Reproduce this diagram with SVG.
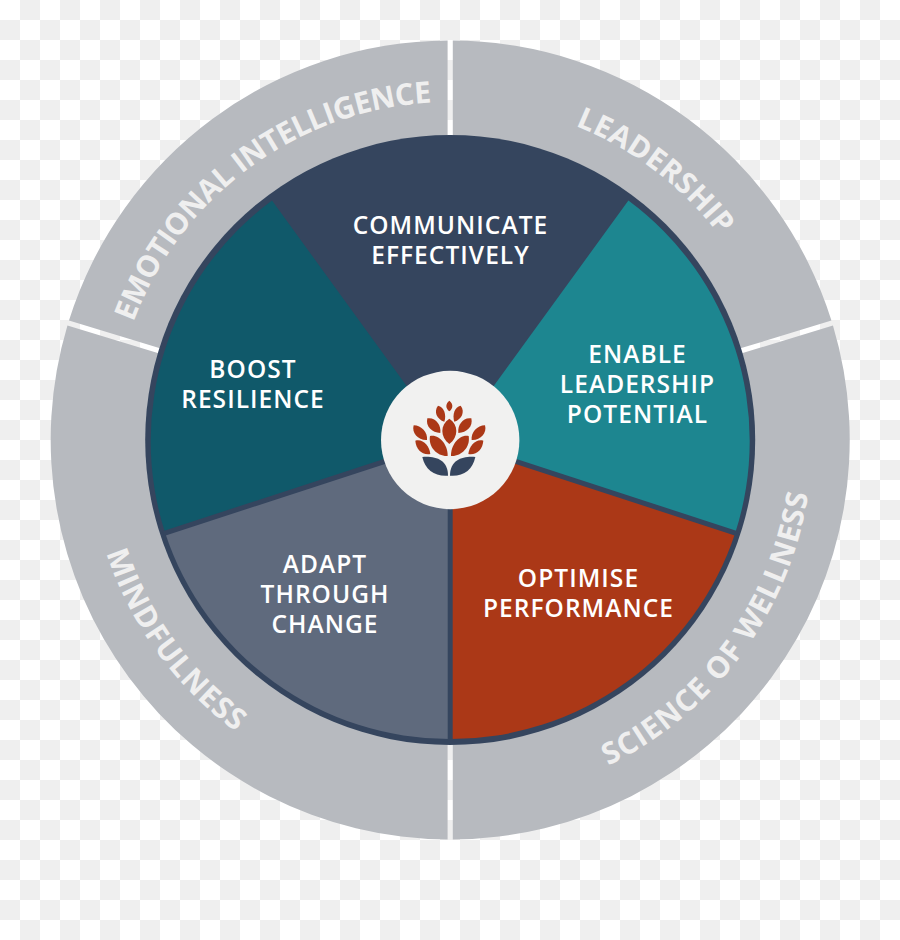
<svg xmlns="http://www.w3.org/2000/svg" xmlns:xlink="http://www.w3.org/1999/xlink" width="900" height="940" viewBox="0 0 900 940">
  <style>
    .ring { fill: #b7babf; }
    .ring-label { font-family: "Open Sans", "Liberation Sans", sans-serif; font-size: 30px; font-weight: 700; fill: #efefef; text-anchor: middle; }
    .label { font-family: "Open Sans", "Liberation Sans", sans-serif; font-size: 24.5px; font-weight: 550; fill: #ffffff; text-anchor: middle; letter-spacing: 1.05px; }
    .divider { stroke: #35455e; stroke-width: 5; fill: none; }
    .petal { fill: #ab3817; }
    .base { fill: #35455e; }
  </style>
  <defs>
    <pattern id="checks" width="40" height="40" patternUnits="userSpaceOnUse">
      <rect width="40" height="40" fill="#ffffff"/>
      <rect x="20" y="0" width="20" height="20" fill="#efefef"/>
      <rect x="0" y="20" width="20" height="20" fill="#efefef"/>
    </pattern>
    <path id="arc-emotional" d="M115.8 390.6 A338 338 0 0 1 499.6 105.6"/>
    <path id="arc-leadership" d="M404.9 105 A338 338 0 0 1 785.2 394.7"/>
    <path id="arc-wellness" d="M503.1 798.1 A362 362 0 0 0 808.3 387.1"/>
    <path id="arc-mindfulness" d="M92.4 385.2 A362 362 0 0 0 395.4 797.8"/>
  </defs>

  <rect width="900" height="940" fill="url(#checks)"/>

  <!-- Outer ring, four bands -->
  <g id="band-emotional-intelligence">
    <path class="ring" d="M447.6 40.5 A399.5 399.5 0 0 0 68.96 320.5 L164.1 349.6 A300 300 0 0 1 447.6 140 Z"/>
    <text class="ring-label" letter-spacing="-0.45"><textPath href="#arc-emotional" xlink:href="#arc-emotional" startOffset="50.2%">EMOTIONAL INTELLIGENCE</textPath></text>
  </g>
  <g id="band-leadership">
    <path class="ring" d="M452.8 40.5 A399.5 399.5 0 0 1 831.44 320.5 L736.3 349.6 A300 300 0 0 0 452.8 140 Z"/>
    <text class="ring-label" letter-spacing="0.2"><textPath href="#arc-leadership" xlink:href="#arc-leadership" startOffset="50%">LEADERSHIP</textPath></text>
  </g>
  <g id="band-science-of-wellness">
    <path class="ring" d="M832.96 325.5 A399.5 399.5 0 0 1 452.8 839.5 L452.8 740 A300 300 0 0 0 737.8 354.6 Z"/>
    <text class="ring-label" letter-spacing="1"><textPath href="#arc-wellness" xlink:href="#arc-wellness" startOffset="50.4%">SCIENCE OF WELLNESS</textPath></text>
  </g>
  <g id="band-mindfulness">
    <path class="ring" d="M447.6 839.5 A399.5 399.5 0 0 1 67.44 325.5 L162.6 354.6 A300 300 0 0 0 447.6 740 Z"/>
    <text class="ring-label" letter-spacing="0.9"><textPath href="#arc-mindfulness" xlink:href="#arc-mindfulness" startOffset="49.7%">MINDFULNESS</textPath></text>
  </g>

  <!-- Inner wheel: the disc doubles as the rim and the top wedge -->
  <g id="wedge-communicate">
    <circle cx="450.2" cy="440" r="305" fill="#35455e"/>
    <text class="label" x="450.5" y="234">COMMUNICATE</text>
    <text class="label" x="450.5" y="264">EFFECTIVELY</text>
  </g>
  <g id="wedge-leadership-potential">
    <path fill="#1d8690" d="M450.2 446 L628.4 200.5 A299 299 0 0 1 735.2 533 L450.2 440 Z"/>
    <text class="label" x="637.5" y="363">ENABLE</text>
    <text class="label" x="637.5" y="393">LEADERSHIP</text>
    <text class="label" x="637.5" y="423">POTENTIAL</text>
  </g>
  <g id="wedge-performance">
    <path fill="#ab3817" d="M450.2 440 L735.2 533 A299 299 0 0 1 450.2 739 Z"/>
    <text class="label" x="578.5" y="587">OPTIMISE</text>
    <text class="label" x="578.5" y="617">PERFORMANCE</text>
  </g>
  <g id="wedge-change">
    <path fill="#5f6a7d" d="M450.2 440 L450.2 739 A299 299 0 0 1 165.2 533 Z"/>
    <text class="label" x="325" y="573">ADAPT</text>
    <text class="label" x="325" y="603">THROUGH</text>
    <text class="label" x="325" y="633">CHANGE</text>
  </g>
  <g id="wedge-resilience">
    <path fill="#10596a" d="M450.2 440 L165.2 533 A299 299 0 0 1 272 200.5 L450.2 446 Z"/>
    <text class="label" x="253" y="378">BOOST</text>
    <text class="label" x="253" y="408">RESILIENCE</text>
  </g>

  <g id="connectors">
    <path class="divider" d="M450.2 440 L737 533.6"/>
    <path class="divider" d="M450.2 440 L450.2 741"/>
    <path class="divider" d="M450.2 440 L163.4 533.6"/>
  </g>

  <!-- Hub with lotus mark -->
  <g id="hub">
    <circle cx="450.2" cy="440" r="69.2" fill="#f1f1f0"/>
    <g transform="translate(370 370) scale(0.33333)">
      <path class="petal" d="M238 92 C250 102 250 114 238 124 C226 114 226 102 238 92 Z"/>
      <path class="petal" d="M204 107 C222 110 230 135 223 155 C201 148 190 125 204 107 Z"/>
      <path class="petal" d="M272 107 C254 110 246 135 253 155 C275 148 286 125 272 107 Z"/>
      <path class="petal" d="M172 145 C197 141 214 165 211 189 C186 188 166 170 172 145 Z"/>
      <path class="petal" d="M304 145 C279 141 262 165 265 189 C290 188 310 170 304 145 Z"/>
      <path class="petal" d="M238 146 C266 165 266 200 238 222 C210 200 210 165 238 146 Z"/>
      <path class="petal" d="M131 166 C154 166 174 188 171 210 C146 212 124 190 131 166 Z"/>
      <path class="petal" d="M345 166 C322 166 302 188 305 210 C330 212 352 190 345 166 Z"/>
      <path class="petal" d="M136 212 C160 206 178 228 181 252 C156 256 138 238 136 212 Z"/>
      <path class="petal" d="M340 212 C316 206 298 228 295 252 C320 256 338 238 340 212 Z"/>
      <path class="petal" d="M180 198 C208 192 234 225 233 258 C203 260 174 232 180 198 Z"/>
      <path class="petal" d="M296 198 C268 192 242 225 243 258 C273 260 302 232 296 198 Z"/>
      <path class="base" d="M157 261 C195 258 234 268 234 317 C195 320 165 300 157 261 Z"/>
      <path class="base" d="M316 261 C280 258 240 268 240 317 C280 320 308 300 316 261 Z"/>
    </g>
  </g>
</svg>
